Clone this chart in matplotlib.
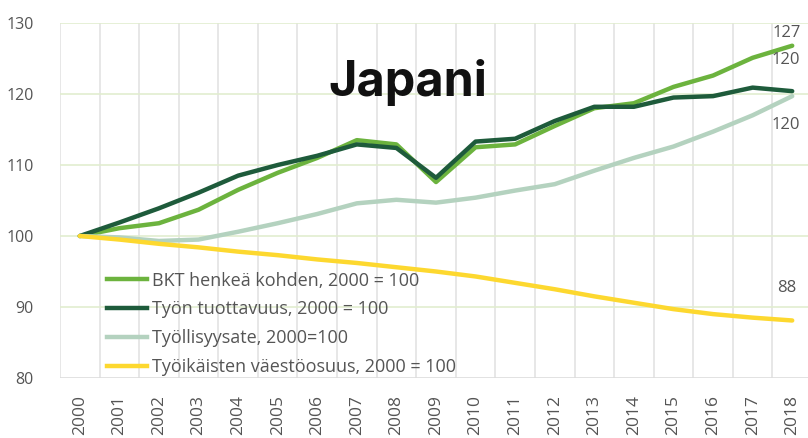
import numpy as np
import matplotlib
matplotlib.use("Agg")
import matplotlib.pyplot as plt

# data
years = [str(y) for y in range(2000, 2019)]
bkt = [100, 101.1, 101.8, 103.7, 106.5, 108.9, 111.0, 113.5, 112.9, 107.6,
       112.5, 112.9, 115.5, 118.0, 118.7, 121.0, 122.6, 125.1, 126.8]
tuottavuus = [100, 101.9, 103.9, 106.1, 108.5, 110.0, 111.3, 112.9, 112.4, 108.2,
              113.3, 113.7, 116.2, 118.2, 118.2, 119.5, 119.7, 120.9, 120.4]
tyollisyys = [100, 99.8, 99.3, 99.5, 100.6, 101.8, 103.1, 104.6, 105.1, 104.7,
              105.4, 106.4, 107.3, 109.2, 111.0, 112.6, 114.7, 117.0, 119.7]
vaesto = [100, 99.5, 98.9, 98.4, 97.8, 97.3, 96.7, 96.2, 95.6, 95.0,
          94.3, 93.4, 92.5, 91.5, 90.6, 89.7, 89.0, 88.5, 88.1]
labels = ["BKT henkeä kohden, 2000 = 100", "Työn tuottavuus, 2000 = 100",
          "Työllisyysate, 2000=100", "Työikäisten väestöosuus, 2000 = 100"]
end_labels = ["127", "120", "120", "88"]

colors = ["#6cb33e", "#1e5b3b", "#b4d2bf", "#fdd82f"]
txt = "#555555"

plt.rcParams['font.family'] = ['Open Sans', 'DejaVu Sans']

fig = plt.figure(figsize=(8.08, 4.38), dpi=100)
ax = fig.add_axes([60/808, 60/438, 752/808, 355/438])

x = np.arange(len(years))
series = [bkt, tuottavuus, tyollisyys, vaesto]
order = [3, 2, 0, 1]
for i in order:
    ax.plot(x, series[i], color=colors[i], lw=3.2, solid_capstyle='round',
            solid_joinstyle='round', zorder=3 + i)

ax.set_xlim(-0.5, len(years) - 0.5)
ax.set_ylim(80, 130)
ax.set_yticks([80, 90, 100, 110, 120, 130])
ax.set_xticks(x)
ax.set_xticklabels(years, rotation=90)
ax.tick_params(length=0, labelcolor=txt, labelsize=11.5)
ax.tick_params(axis='y', pad=19)
ax.tick_params(axis='x', pad=12, labelsize=12.5)

for yv in [90, 100, 110, 120, 130]:
    ax.axhline(yv, color="#e1edd0", lw=1.2, zorder=1)
for xv in np.arange(-0.5, len(years), 1.0):
    ax.axvline(xv, color="#e3e3e3", lw=1.2, zorder=0)
for s in ax.spines.values():
    s.set_visible(False)
ax.axhline(80, color="#dddddd", lw=1.2, zorder=1)

# legend
handles = [plt.Line2D([], [], color=c, lw=3.2) for c in colors]
leg = ax.legend(handles, labels, loc='upper left', bbox_to_anchor=(0.053, 0.32),
                frameon=False, fontsize=13, handlelength=2.2, handletextpad=0.3,
                labelspacing=0.6, borderaxespad=0)
for t in leg.get_texts():
    t.set_color(txt)

# end labels
end_y = [128.6, 124.8, 115.6, 92.7]
for lab, yv in zip(end_labels, end_y):
    ax.text(17.85, yv, lab, ha='center', va='center', color=txt, fontsize=12)

ax.text(8.3, 121.6, "Japani", ha='center', va='center', fontsize=35,
        fontweight='bold', color="#111111", family=['Inter', 'DejaVu Sans'])

fig.savefig("out.png", dpi=100)
